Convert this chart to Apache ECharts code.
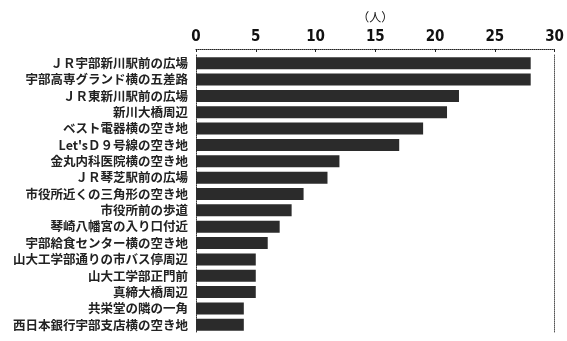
<!DOCTYPE html>
<html><head><meta charset="utf-8">
<script src="https://cdn.jsdelivr.net/npm/echarts@6/dist/echarts.min.js"></script>
<style>html,body{margin:0;padding:0;background:#fff}#c{width:567px;height:341px}</style>
</head><body><div id="c"></div>
<script>
const categories = [
  "ＪＲ宇部新川駅前の広場",
  "宇部高専グランド横の五差路",
  "ＪＲ東新川駅前の広場",
  "新川大橋周辺",
  "ベスト電器横の空き地",
  "Let'sＤ９号線の空き地",
  "金丸内科医院横の空き地",
  "ＪＲ琴芝駅前の広場",
  "市役所近くの三角形の空き地",
  "市役所前の歩道",
  "琴崎八幡宮の入り口付近",
  "宇部給食センター横の空き地",
  "山大工学部通りの市バス停周辺",
  "山大工学部正門前",
  "真締大橋周辺",
  "共栄堂の隣の一角",
  "西日本銀行宇部支店横の空き地"
];
const values = [28, 28, 22, 21, 19, 17, 12, 11, 9, 8, 7, 6, 5, 5, 5, 4, 4];
const xTicks = [0, 5, 10, 15, 20, 25, 30];
const unitLabel = "（人）";

const chart = echarts.init(document.getElementById('c'));
chart.setOption({
  animation: false,
  grid: {left: 196, right: 9, top: 55, bottom: 8},
  xAxis: {
    type: 'value', position: 'top', min: 0, max: 30, interval: 5, offset: 6,
    name: unitLabel, nameLocation: 'middle', nameGap: 26,
    nameTextStyle: {fontSize: 12, color: '#111', fontFamily: 'Noto Sans CJK JP'},
    axisLine: {show: true, lineStyle: {color: '#222', type: 'dotted', width: 1}},
    axisTick: {show: true, inside: true, length: 3, lineStyle: {color: '#222'}},
    axisLabel: {fontSize: 15, fontWeight: 'bold', color: '#111', fontFamily: 'DejaVu Sans Condensed', margin: 4,
      formatter: v => xTicks.includes(v) ? String(v) : ''},
    splitLine: {show: false}
  },
  yAxis: [{
    type: 'category', inverse: true, data: categories,
    axisLine: {show: true, lineStyle: {color: '#333', type: 'dotted'}},
    axisTick: {show: false},
    axisLabel: {fontSize: 12.5, fontWeight: 'bold', color: '#222', fontFamily: 'Noto Sans CJK JP', margin: 8}
  }, {
    type: 'category', inverse: true, data: categories, position: 'right',
    axisLine: {show: true, lineStyle: {color: '#555', type: 'dotted'}},
    axisTick: {show: false}, axisLabel: {show: false}
  }],
  series: [{
    type: 'bar', data: values, barWidth: 12,
    itemStyle: {color: '#2b2b2b'}
  }]
});
</script></body></html>
